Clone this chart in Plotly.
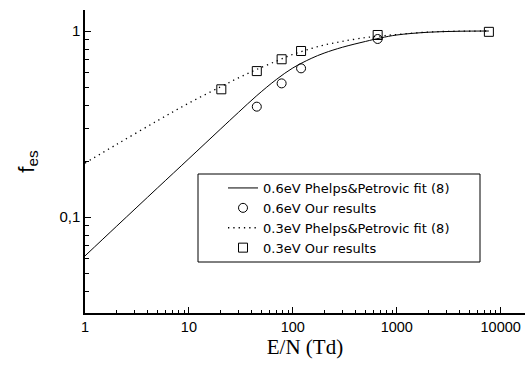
import plotly.graph_objects as go

# --- data ---
fit_x = [1, 2, 5, 10, 20, 30, 45, 70, 100, 150, 200, 300, 500, 700, 1000, 2000, 4000, 7700]
fit_06 = [0.0618, 0.0889, 0.1436, 0.206, 0.296, 0.3655, 0.4495, 0.5508, 0.633, 0.712,
          0.7607, 0.818, 0.879, 0.918, 0.952, 0.985, 0.997, 1.0]
fit_03 = [0.195, 0.245, 0.33, 0.41, 0.50, 0.56, 0.622, 0.69, 0.749, 0.805,
          0.841, 0.88, 0.922, 0.94, 0.958, 0.987, 0.998, 1.0]

our06_x = [45, 78, 120, 655]
our06_y = [0.392, 0.523, 0.63, 0.906]
our03_x = [20.5, 45, 78, 120, 655, 7700]
our03_y = [0.486, 0.609, 0.705, 0.781, 0.952, 0.99]

x_ticks = [1, 10, 100, 1000, 10000]
x_ticktext = ["1", "10", "100", "1000", "10000"]
y_ticks = [0.1, 1]
y_ticktext = ["0,1", "1"]

names = ["0.6eV Phelps&Petrovic fit (8)", "0.6eV Our results",
         "0.3eV Phelps&Petrovic fit (8)", "0.3eV Our results"]

fig = go.Figure()
fig.add_trace(go.Scatter(x=fit_x, y=fit_06, mode="lines", name=names[0],
                         line=dict(color="black", width=1, shape="spline", smoothing=1.0)))
fig.add_trace(go.Scatter(x=our06_x, y=our06_y, mode="markers", name=names[1],
                         marker=dict(symbol="circle-open", size=9,
                                     color="black", line=dict(width=1, color="black"))))
fig.add_trace(go.Scatter(x=fit_x, y=fit_03, mode="lines", name=names[2],
                         line=dict(color="black", width=1.3, shape="spline", smoothing=1.0,
                                   dash="1.3px,4px")))
fig.add_trace(go.Scatter(x=our03_x, y=our03_y, mode="markers", name=names[3],
                         marker=dict(symbol="square-open", size=9,
                                     color="black", line=dict(width=1, color="black"))))

# plot-area geometry in pixels
L, R, T, B = 85, 525, 10, 313
W, H = R - L, B - T
def px(xp):
    return (xp - L) / W
def py(yp):
    return (B - yp) / H

# legend frame
fig.add_shape(type="rect", xref="paper", yref="paper",
              x0=px(198), x1=px(480), y0=py(262), y1=py(174),
              line=dict(color="black", width=1), fillcolor="white", layer="above")

fig.update_layout(
    width=528, height=367,
    margin=dict(l=L, r=528 - R, t=T, b=367 - B),
    paper_bgcolor="white", plot_bgcolor="white",
    showlegend=True,
    legend=dict(x=px(223), y=py(173), xanchor="left", yanchor="top",
                bgcolor="rgba(0,0,0,0)", borderwidth=0,
                font=dict(family="DejaVu Sans", size=13, color="black")),
    font=dict(family="Liberation Sans", color="black"),
)
fig.update_xaxes(
    type="log", range=[0, 4.234],
    tickmode="array", tickvals=x_ticks, ticktext=x_ticktext,
    ticks="inside", ticklen=6, tickwidth=1, tickcolor="black",
    minor=dict(dtick="D1", ticks="inside", ticklen=3, tickwidth=1, tickcolor="black", showgrid=False),
    showline=True, linecolor="black", linewidth=1.5, mirror=False,
    showgrid=False, zeroline=False,
    tickfont=dict(family="Liberation Sans", size=14.5, color="black"),
    title=dict(text="E/N (Td)", font=dict(family="Liberation Serif", size=21, color="black"), standoff=4),
)
fig.update_yaxes(
    type="log", range=[-1.516, 0.113],
    tickmode="array", tickvals=y_ticks, ticktext=y_ticktext,
    ticks="inside", ticklen=6, tickwidth=1, tickcolor="black",
    minor=dict(dtick="D1", ticks="inside", ticklen=4, tickwidth=1, tickcolor="black", showgrid=False),
    showline=True, linecolor="black", linewidth=1.5, mirror=False,
    showgrid=False, zeroline=False,
    tickfont=dict(family="Liberation Sans", size=15, color="black"),
    title=dict(text="f<sub>es</sub>", font=dict(family="Liberation Sans", size=22, color="black"), standoff=19),
)

fig.write_html("out.html")
